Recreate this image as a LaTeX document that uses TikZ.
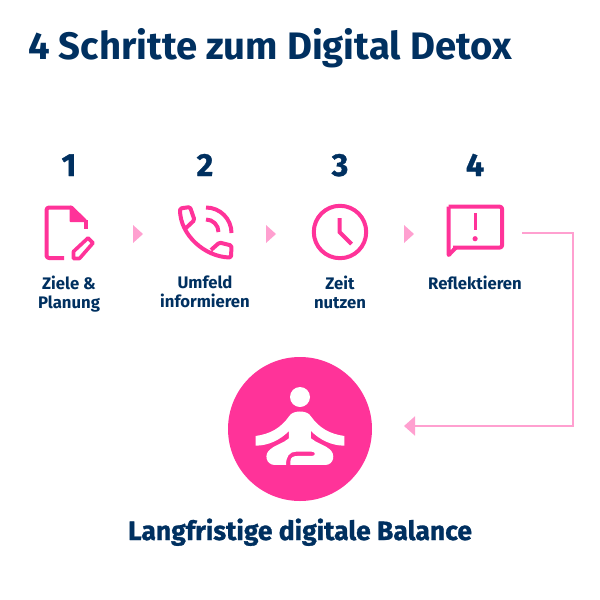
\documentclass[tikz,border=0pt]{standalone}
\usepackage{fontspec}
\usepackage{xcolor}
\usetikzlibrary{arrows.meta}
\setmainfont{Fira Sans}
\newfontfamily\heavyfont[BoldFeatures={FakeBold=1.1}]{Fira Sans}
\definecolor{navyink}{RGB}{0,48,96}
\definecolor{hotpink}{RGB}{255,51,153}
\definecolor{palepink}{RGB}{255,160,208}
\tikzset{
    iconline/.style={draw=hotpink, line width=4pt, line join=round},
    chevron/.style={fill=palepink},
    stepnum/.style={text=navyink, font=\fontsize{32}{32}\selectfont\heavyfont\bfseries, anchor=base},
    steplabel/.style={text=navyink, font=\fontsize{16.7}{19}\selectfont\bfseries, align=center, anchor=north, inner sep=0pt}
}
\begin{document}
\begin{tikzpicture}[x=1pt, y=-1pt]
    \useasboundingbox (0,0) rectangle (600,600);

    % Title
    \node[anchor=base west, inner sep=0pt, text=navyink, font=\fontsize{38.3}{38}\selectfont\bfseries] (title) at (28,59) {4 Schritte zum Digital Detox};

    % Numbers and labels
    \foreach \num/\txt/\x in {
        1/{Ziele \&\\Planung}/69,
        2/{Umfeld\\informieren}/205,
        3/{Zeit\\nutzen}/340,
        4/{Reflektieren}/475%
    } {
        \node[stepnum] (num\num) at (\x,176) {\num};
        \node[steplabel] (label\num) at (\x,275.5) {\txt};
    }

    % Chevrons between the steps
    \foreach \x in {133,266,404} {
        \fill[chevron] (\x,225) -- (\x+10,234) -- (\x,243) -- cycle;
    }

    % Document
    \draw[iconline, rounded corners=2.5pt] (64,258) -- (46.5,258) -- (46.5,207.5) -- (71,207.5);
    \fill[hotpink, rounded corners=1pt] (69.5,205.5) -- (72,205.5) -- (87,220) -- (87,222) -- (69.5,222) -- cycle;
    \draw[hotpink, line width=4pt] (85.5,220) -- (85.5,228.5);
    \draw[hotpink, line width=3.6pt, line join=round] (73.5,258.5) -- (73.5,251.5) -- (88,238) -- (93,243) -- (79.5,258.5) -- cycle;

    % Phone
    \draw[iconline] (206,207.5) arc (270:360:25.5);
    \draw[iconline] (206,219.5) arc (270:360:12.5);
    \draw[iconline, rounded corners=1.5pt] (186,228) -- (194.5,220) -- (190,207) -- (180,208.5)
        .. controls (180,235) and (205,257) .. (231,257.5) -- (231.5,245.5) -- (219.5,242.5) -- (211,250);

    % Clock
    \draw[iconline] (340,232) circle (26.2);
    \draw[iconline, line join=miter] (339.5,218) -- (339.5,232) -- (351.5,244);

    % Speech bubble
    \node[inner sep=0pt, minimum size=0pt] (bubble) at (475,227) {};
    \draw[iconline, rounded corners=2pt] (448.7,206.7) -- (502,206.7) -- (502,247.5) -- (453,247.5);
    \draw[iconline] (448.7,206.7) -- (448.7,255) -- (456,247.5);
    \fill[hotpink] (473.6,213) rectangle (476.6,230);
    \fill[hotpink] (475.1,238.7) circle (2.6);

    % Balance circle
    \node[circle, fill=hotpink, minimum size=144pt, inner sep=0pt] (balance) at (300,429) {};
    \fill[white] (300,397) circle (10);
    \begin{scope}[shift={(210,350)}, scale=0.3333]
        \fill[white] (137,258) .. controls (180,252) and (212,235) .. (238,198)
            .. controls (248,180) and (292,180) .. (302,198)
            .. controls (328,235) and (360,252) .. (403,258) -- (403,287)
            .. controls (365,287) and (330,270) .. (303,243) -- (303,265)
            .. controls (320,280) and (345,285) .. (358,297)
            .. controls (378,312) and (372,345) .. (345,345) -- (241,345) -- (241,335)
            .. controls (241,322) and (250,318) .. (262,318) -- (305,318)
            .. controls (318,318) and (318,305) .. (305,305) -- (258,305)
            .. controls (238,305) and (228,320) .. (228,345) -- (195,345)
            .. controls (168,345) and (160,312) .. (182,297)
            .. controls (195,285) and (220,280) .. (237,265) -- (237,243)
            .. controls (210,270) and (175,287) .. (137,287) -- cycle;
    \end{scope}

    % Connector
    \coordinate (start) at (522,233);
    \coordinate (end) at (404,426);
    \draw[palepink, line width=2pt, -{Triangle[length=11pt, width=19pt]}] (start) -- (573,233) -- (573,426) -- (end);

    % Caption
    \node[anchor=base, inner sep=0pt, text=navyink, font=\fontsize{26.5}{26}\selectfont\heavyfont\bfseries] (caption) at (300,540) {Langfristige digitale Balance};
\end{tikzpicture}
\end{document}
